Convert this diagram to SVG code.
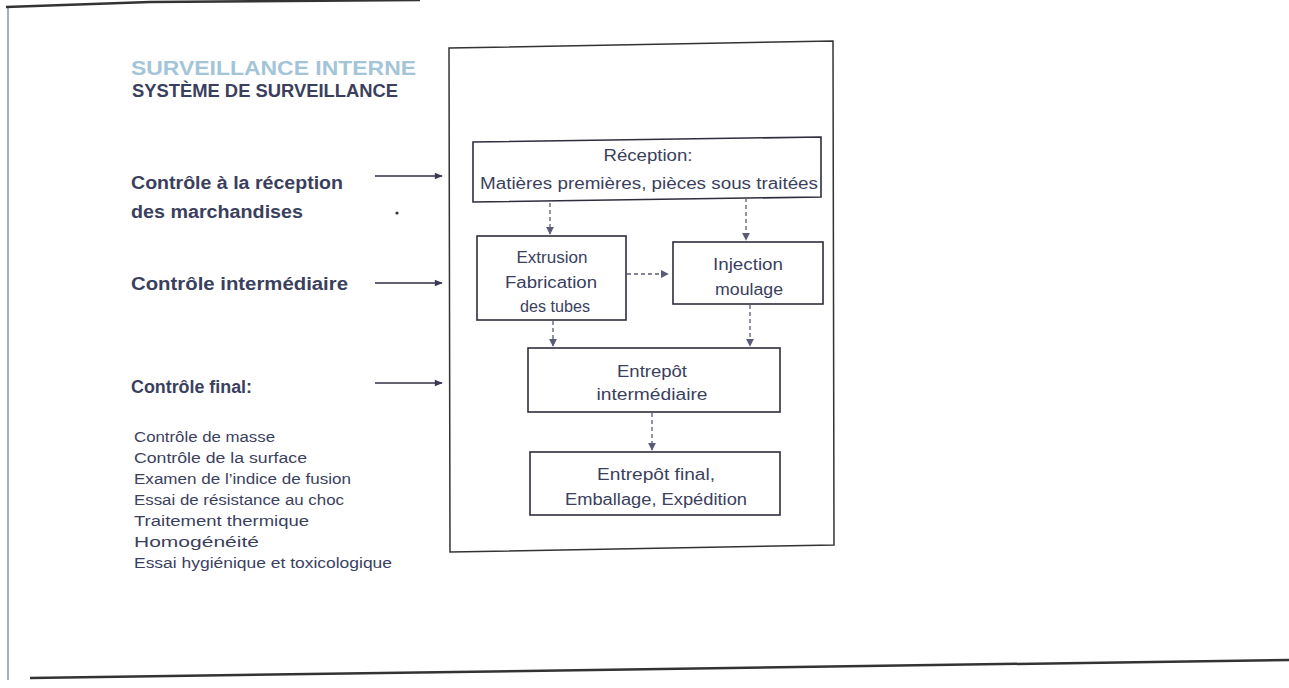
<svg xmlns="http://www.w3.org/2000/svg" width="1289" height="688" viewBox="0 0 1289 688">
<defs>
<marker id="ah" viewBox="0 0 10 10" refX="9" refY="5" markerWidth="8" markerHeight="8" markerUnits="userSpaceOnUse" orient="auto"><path d="M0,0 L10,5 L0,10 Z" fill="#5a5a7a"/></marker>
<marker id="ahs" viewBox="0 0 10 10" refX="9" refY="5" markerWidth="9" markerHeight="8" markerUnits="userSpaceOnUse" orient="auto"><path d="M0,1 L10,5 L0,9 Z" fill="#3a3a55"/></marker>
<style>
text{font-family:"Liberation Sans",Arial,sans-serif;fill:#3b3f5e}
.t1{font-size:20px;font-weight:bold;fill:#a4c4d8}
.t2{font-size:18px;font-weight:bold}
.lab{font-size:18px;font-weight:bold}
.li{font-size:14px}
.bx{font-size:16px;text-anchor:middle}
.box{fill:#fff;stroke:#2e2e3e;stroke-width:1.6}
.dash{fill:none;stroke:#5a5a7a;stroke-width:1.3;stroke-dasharray:4,3}
.sol{fill:none;stroke:#2e2e45;stroke-width:1.6}
.frame{fill:none;stroke:#333;stroke-width:1.5}
</style>
</defs>
<rect width="1289" height="688" fill="#fff"/>
<g id="frame">
<path d="M8,680 L8,8" fill="none" stroke="#8890b0" stroke-width="1.5"/>
<path d="M6,7 L150,2 L420,0" fill="none" stroke="#333" stroke-width="2.5"/>
<path d="M30,678 L1289,660" fill="none" stroke="#333" stroke-width="2.5"/>
<polygon class="frame" points="449,48 833,41 834,545 450,552"/>
</g>
<g id="titles">
<text class="t1" x="131" y="75" textLength="285" lengthAdjust="spacingAndGlyphs">SURVEILLANCE INTERNE</text>
<text class="t2" x="132" y="97" textLength="266" lengthAdjust="spacingAndGlyphs">SYSTÈME DE SURVEILLANCE</text>
</g>
<g id="label-reception">
<text class="lab" x="131" y="189" textLength="212" lengthAdjust="spacingAndGlyphs">Contrôle à la réception</text>
<text class="lab" x="131" y="218" textLength="172" lengthAdjust="spacingAndGlyphs">des marchandises</text>
</g>
<g id="label-intermediaire">
<text class="lab" x="131" y="290" textLength="217" lengthAdjust="spacingAndGlyphs">Contrôle intermédiaire</text>
</g>
<g id="label-final">
<text class="lab" x="131" y="393" textLength="121" lengthAdjust="spacingAndGlyphs">Contrôle final:</text>
<text class="li" x="134" y="442" textLength="141" lengthAdjust="spacingAndGlyphs">Contrôle de masse</text>
<text class="li" x="134" y="463" textLength="173" lengthAdjust="spacingAndGlyphs">Contrôle de la surface</text>
<text class="li" x="134" y="484" textLength="217" lengthAdjust="spacingAndGlyphs">Examen de l’indice de fusion</text>
<text class="li" x="134" y="505" textLength="210" lengthAdjust="spacingAndGlyphs">Essai de résistance au choc</text>
<text class="li" x="134" y="526" textLength="175" lengthAdjust="spacingAndGlyphs">Traitement thermique</text>
<text class="li" x="134" y="547" textLength="125" lengthAdjust="spacingAndGlyphs">Homogénéité</text>
<text class="li" x="134" y="568" textLength="258" lengthAdjust="spacingAndGlyphs">Essai hygiénique et toxicologique</text>
</g>
<circle cx="397" cy="213" r="1.6" fill="#333"/>
<g id="node-reception">
<polygon class="box" points="473,142 821,137 821,197 473,202"/>
<text class="bx" x="648" y="161" textLength="89" lengthAdjust="spacingAndGlyphs">Réception:</text>
<text class="bx" x="649" y="189" textLength="338" lengthAdjust="spacingAndGlyphs">Matières premières, pièces sous traitées</text>
</g>
<g id="node-extrusion">
<rect class="box" x="477" y="236" width="149" height="84"/>
<text class="bx" x="552" y="263" textLength="71" lengthAdjust="spacingAndGlyphs">Extrusion</text>
<text class="bx" x="551" y="288" textLength="92" lengthAdjust="spacingAndGlyphs">Fabrication</text>
<text class="bx" x="555" y="312" textLength="70" lengthAdjust="spacingAndGlyphs">des tubes</text>
</g>
<g id="node-injection">
<rect class="box" x="673" y="242" width="150" height="62"/>
<text class="bx" x="748" y="270" textLength="70" lengthAdjust="spacingAndGlyphs">Injection</text>
<text class="bx" x="749" y="295" textLength="68" lengthAdjust="spacingAndGlyphs">moulage</text>
</g>
<g id="node-entrepot-int">
<rect class="box" x="528" y="348" width="252" height="64"/>
<text class="bx" x="652" y="377" textLength="70" lengthAdjust="spacingAndGlyphs">Entrepôt</text>
<text class="bx" x="652" y="400" textLength="111" lengthAdjust="spacingAndGlyphs">intermédiaire</text>
</g>
<g id="node-entrepot-final">
<rect class="box" x="530" y="452" width="250" height="63"/>
<text class="bx" x="656" y="480" textLength="118" lengthAdjust="spacingAndGlyphs">Entrepôt final,</text>
<text class="bx" x="656" y="505" textLength="182" lengthAdjust="spacingAndGlyphs">Emballage, Expédition</text>
</g>
<g id="connectors">
<line class="sol" x1="375" y1="176" x2="442" y2="176" marker-end="url(#ahs)"/>
<line class="sol" x1="375" y1="283" x2="442" y2="283" marker-end="url(#ahs)"/>
<line class="sol" x1="375" y1="383" x2="442" y2="383" marker-end="url(#ahs)"/>
<line class="dash" x1="550" y1="203" x2="550" y2="234" marker-end="url(#ah)"/>
<line class="dash" x1="746" y1="198" x2="746" y2="240" marker-end="url(#ah)"/>
<line class="dash" x1="627" y1="274" x2="668" y2="274" marker-end="url(#ah)"/>
<line class="dash" x1="553" y1="321" x2="553" y2="346" marker-end="url(#ah)"/>
<line class="dash" x1="750" y1="305" x2="750" y2="346" marker-end="url(#ah)"/>
<line class="dash" x1="652" y1="413" x2="652" y2="450" marker-end="url(#ah)"/>
</g>
</svg>
